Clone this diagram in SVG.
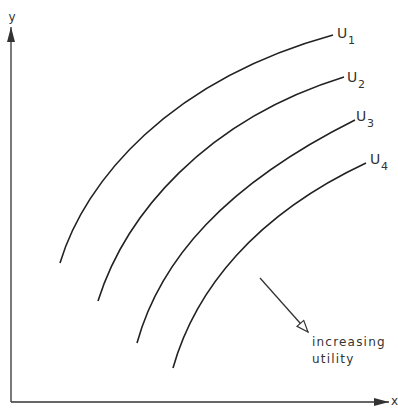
<svg xmlns="http://www.w3.org/2000/svg" width="398" height="408" viewBox="0 0 398 408">
<style>
.curve{fill:none;stroke:#222;stroke-width:1.6}
.axis{fill:none;stroke:#333;stroke-width:1.3}
.lbl{font-family:"DejaVu Sans","Liberation Sans",sans-serif;fill:#333}
.big{font-size:14px}
.sub{font-size:11px}
.note{font-size:12px;letter-spacing:1.2px}
</style>
<defs>
<marker id="solid" markerWidth="16" markerHeight="10" refX="15" refY="5" orient="auto" markerUnits="userSpaceOnUse">
<path d="M0,1 L15,5 L0,9 Z" fill="#333"/>
</marker>
<marker id="open" markerWidth="14" markerHeight="12" refX="12.5" refY="6" orient="auto" markerUnits="userSpaceOnUse">
<path d="M1,1.5 L12.5,6 L1,10.5 Z" fill="#fff" stroke="#333" stroke-width="1.2"/>
</marker>
</defs>
<rect width="398" height="408" fill="#fff"/>
<g id="connectors">
<path id="y-axis" class="axis" d="M11,402 L11,27" marker-end="url(#solid)"/>
<path id="x-axis" class="axis" d="M11,402 L389,402" marker-end="url(#solid)"/>
<path id="direction-arrow" class="axis" d="M260,278 L308,332" marker-end="url(#open)"/>
</g>
<g id="axis-labels">
<text class="lbl" x="8.5" y="21" font-size="12">y</text>
<text class="lbl" x="391" y="405" font-size="12">x</text>
</g>
<g id="U1">
<path class="curve" d="M60,263 C85,180 170,80 333,35"/>
<text class="lbl big" x="337" y="38">U</text><text class="lbl sub" x="348" y="44">1</text>
</g>
<g id="U2">
<path class="curve" d="M98,301 C125,215 205,120 344,77"/>
<text class="lbl big" x="347" y="82">U</text><text class="lbl sub" x="358" y="88">2</text>
</g>
<g id="U3">
<path class="curve" d="M137,343 C160,260 225,185 355,120"/>
<text class="lbl big" x="356" y="121">U</text><text class="lbl sub" x="367" y="127">3</text>
</g>
<g id="U4">
<path class="curve" d="M173,368 C195,290 255,215 366,163"/>
<text class="lbl big" x="370" y="164">U</text><text class="lbl sub" x="381" y="170">4</text>
</g>
<g id="increasing-utility">
<text class="lbl note" x="312" y="346">increasing</text>
<text class="lbl note" x="312" y="363">utility</text>
</g>
</svg>
